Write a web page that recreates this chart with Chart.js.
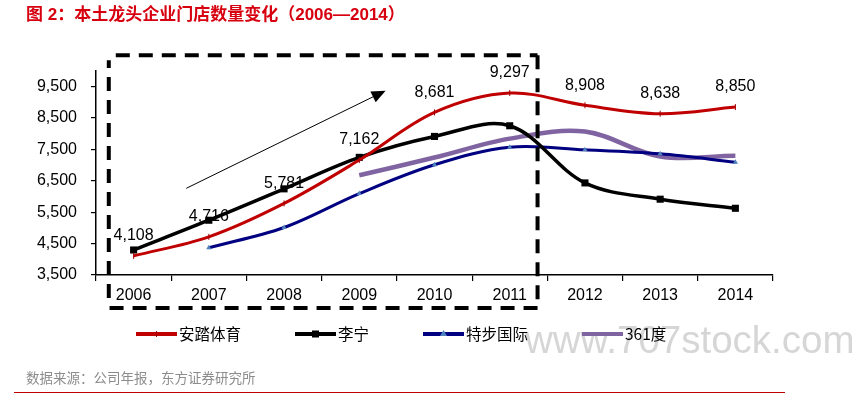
<!DOCTYPE html>
<html>
<head>
<meta charset="utf-8">
<script src="https://cdn.jsdelivr.net/npm/chart.js@4/dist/chart.umd.min.js"></script>
<style>
  html, body { margin: 0; padding: 0; background: #fff; }
  #wrap { width: 858px; height: 397px; }
</style>
</head>
<body>
<div id="wrap"><canvas id="myChart" width="858" height="397"></canvas></div>
<script>
// categories and series (store counts)
const years = ['2006', '2007', '2008', '2009', '2010', '2011', '2012', '2013', '2014'];
const anta = [4108, 4716, 5781, 7162, 8681, 9297, 8908, 8638, 8850];
const lining = [4297, 5245, 6245, 7249, 7915, 8255, 6434, 5915, 5626];
const xtep = [null, 4368, 5013, 6093, 7013, 7571, 7487, 7360, 7095];
const s361 = [null, null, null, 6680, 7243, 7846, 8069, 7275, 7300];
const yTicks = [3500, 4500, 5500, 6500, 7500, 8500, 9500];

const seriesNames = ['安踏体育', '李宁', '特步国际', '361度'];
const titleText = '图 2：本土龙头企业门店数量变化（2006—2014）';
const sourceText = '数据来源：公司年报，东方证券研究所';
const watermark = 'www.707stock.com';

const latin = '"Liberation Sans", Arial, "Noto Sans CJK SC", sans-serif';

// extra drawing: title, dashed box, arrow, data labels, legend, source
const extras = {
  id: 'extras',
  afterDatasetsDraw(chart) {
    const ctx = chart.ctx;
    const x = chart.scales.x, y = chart.scales.y;

    // data labels for 安踏体育
    ctx.save();
    ctx.fillStyle = '#000';
    ctx.font = '16px ' + latin;
    ctx.textAlign = 'center';
    ctx.textBaseline = 'middle';
    chart.getDatasetMeta(0).data.forEach((pt, i) => {
      ctx.fillText(anta[i].toLocaleString('en-US'), pt.x, pt.y - 20);
    });
    ctx.restore();

    // dashed highlight box
    const bl = x.getPixelForValue(-0.33), br = x.getPixelForValue(5.37);
    const bt = y.getPixelForValue(10500), bb = y.getPixelForValue(2450);
    ctx.save();
    ctx.strokeStyle = '#000';
    ctx.lineWidth = 4;
    ctx.setLineDash([14, 9]);
    ctx.beginPath();
    ctx.moveTo(bl + 7, bt); ctx.lineTo(br, bt);
    ctx.moveTo(br, bt); ctx.lineTo(br, bb);
    ctx.moveTo(br, bb); ctx.lineTo(bl, bb);
    ctx.moveTo(bl, bb - 10); ctx.lineTo(bl, bt + 5);
    ctx.stroke();
    ctx.restore();

    // trend arrow
    const ax0 = x.getPixelForValue(0.7), ay0 = y.getPixelForValue(6262);
    const ax1 = x.getPixelForValue(3.35), ay1 = y.getPixelForValue(9373);
    const ang = Math.atan2(ay1 - ay0, ax1 - ax0);
    ctx.save();
    ctx.strokeStyle = '#000';
    ctx.fillStyle = '#000';
    ctx.lineWidth = 1;
    ctx.beginPath();
    ctx.moveTo(ax0, ay0);
    ctx.lineTo(ax1 - 10 * Math.cos(ang), ay1 - 10 * Math.sin(ang));
    ctx.stroke();
    ctx.beginPath();
    ctx.moveTo(ax1, ay1);
    ctx.lineTo(ax1 - 14 * Math.cos(ang) + 6 * Math.sin(ang), ay1 - 14 * Math.sin(ang) - 6 * Math.cos(ang));
    ctx.lineTo(ax1 - 14 * Math.cos(ang) - 6 * Math.sin(ang), ay1 - 14 * Math.sin(ang) + 6 * Math.cos(ang));
    ctx.closePath();
    ctx.fill();
    ctx.restore();
  },
  afterDraw(chart) {
    const ctx = chart.ctx;
    ctx.save();

    // title
    ctx.fillStyle = '#d7000f';
    ctx.font = 'bold 17px ' + latin;
    ctx.textBaseline = 'middle';
    ctx.fillText(titleText, 26, 15);

    // watermark
    ctx.fillStyle = '#d6d6d6';
    ctx.font = '38.5px ' + latin;
    ctx.textBaseline = 'alphabetic';
    ctx.fillText(watermark, 525, 353);

    // legend
    const ds = chart.data.datasets;
    let lx = 136;
    const ly = 334;
    ctx.font = '15.5px "Noto Sans CJK SC", ' + latin;
    ctx.textBaseline = 'middle';
    ds.forEach((d) => {
      ctx.strokeStyle = d.borderColor;
      ctx.lineWidth = 4;
      ctx.beginPath();
      ctx.moveTo(lx, ly); ctx.lineTo(lx + 41, ly);
      ctx.stroke();
      const mx = lx + 20.5;
      if (d.pointStyle === 'rect') {
        ctx.fillStyle = d.pointBackgroundColor;
        ctx.fillRect(mx - 3.5, ly - 3.5, 7, 7);
      } else if (d.pointStyle === 'triangle') {
        ctx.fillStyle = d.pointBackgroundColor;
        ctx.beginPath();
        ctx.moveTo(mx, ly - 4); ctx.lineTo(mx + 3.5, ly + 2); ctx.lineTo(mx - 3.5, ly + 2);
        ctx.closePath(); ctx.fill();
      } else if (d.pointStyle === 'line') {
        ctx.strokeStyle = d.pointBorderColor;
        ctx.lineWidth = 1;
        ctx.beginPath(); ctx.moveTo(mx, ly - 3); ctx.lineTo(mx, ly + 3); ctx.stroke();
      }
      ctx.fillStyle = '#000';
      ctx.fillText(d.label, lx + 43, ly);
      lx += 43 + ctx.measureText(d.label).width + 54;
    });

    // source
    ctx.fillStyle = '#8c8c8c';
    ctx.font = '13.5px "Noto Sans CJK SC", sans-serif';
    ctx.fillText(sourceText, 26, 378);

    // bottom rule
    ctx.strokeStyle = '#c00000';
    ctx.lineWidth = 1.2;
    ctx.beginPath();
    ctx.moveTo(14, 392.5); ctx.lineTo(785, 392.5);
    ctx.stroke();

    ctx.restore();
  }
};

const ctx = document.getElementById('myChart').getContext('2d');
const myChart = new Chart(ctx, {
  type: 'line',
  data: {
    labels: years,
    datasets: [
      {
        label: seriesNames[0], data: anta,
        borderColor: '#c00000', borderWidth: 3,
        pointStyle: 'line', pointRadius: 3, pointBorderColor: '#a00000', pointBorderWidth: 1,
        pointRotation: 90, pointBackgroundColor: '#c00000'
      },
      {
        label: seriesNames[1], data: lining,
        borderColor: '#000000', borderWidth: 3.5,
        pointStyle: 'rect', pointRadius: 5, pointBackgroundColor: '#000', pointBorderWidth: 0
      },
      {
        label: seriesNames[2], data: xtep,
        borderColor: '#000080', borderWidth: 3,
        pointStyle: 'triangle', pointRadius: 3, pointBackgroundColor: '#4f81bd', pointBorderWidth: 0
      },
      {
        label: seriesNames[3], data: s361,
        borderColor: '#8064a2', borderWidth: 4.5,
        pointStyle: 'circle', pointRadius: 0, pointBackgroundColor: '#8064a2'
      }
    ]
  },
  options: {
    responsive: false,
    animation: false,
    layout: { padding: { left: 0, right: 85, top: 71, bottom: 82 } },
    elements: { line: { tension: 0.35, capBezierPoints: true } },
    plugins: {
      legend: { display: false },
      tooltip: { enabled: false },
      title: { display: false }
    },
    scales: {
      x: {
        offset: true,
        border: { color: '#000', width: 1.5 },
        grid: { offset: true, drawOnChartArea: false, tickLength: 6, color: '#000', lineWidth: 1.2 },
        ticks: { color: '#000', font: { size: 16, family: latin }, padding: 5, maxRotation: 0 },
        afterFit(scale) { scale.height = 40; }
      },
      y: {
        min: 3500,
        max: 10000,
        border: { color: '#000', width: 1.5 },
        grid: { drawOnChartArea: false, tickLength: 5, color: '#000', lineWidth: 1.2 },
        afterBuildTicks(scale) { scale.ticks = yTicks.map(v => ({ value: v })); },
        ticks: {
          color: '#000', font: { size: 16, family: latin }, padding: 14,
          callback: v => v.toLocaleString('en-US')
        },
        afterFit(scale) { scale.width = 96; }
      }
    }
  },
  plugins: [extras]
});
</script>
</body>
</html>
